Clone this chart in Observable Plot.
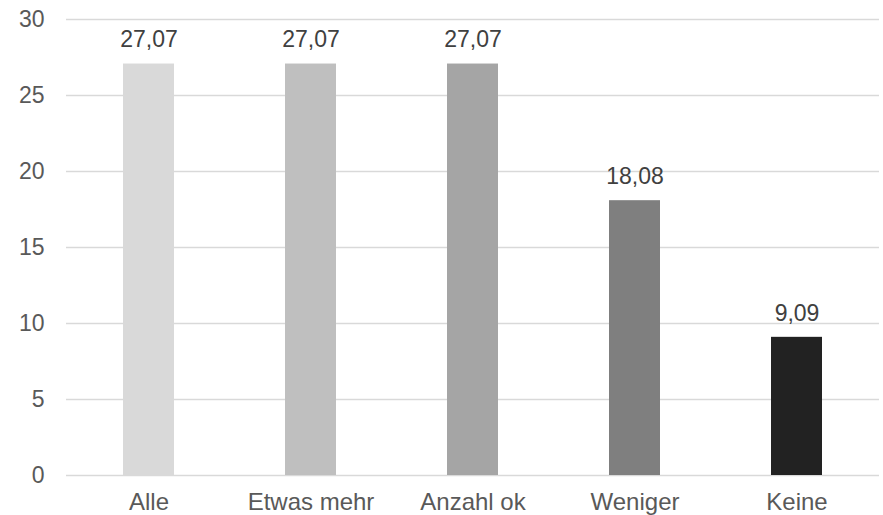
<!DOCTYPE html>
<html>
<head>
<meta charset="utf-8">
<script src="https://cdn.jsdelivr.net/npm/d3@7"></script>
<script src="https://cdn.jsdelivr.net/npm/@observablehq/plot@0.6"></script>
<style>
  html, body { margin: 0; padding: 0; background: #fff; }
</style>
</head>
<body>
<div id="chart"></div>
<script>
const categories = ["Alle", "Etwas mehr", "Anzahl ok", "Weniger", "Keine"];
const values = [27.07, 27.07, 27.07, 18.08, 9.09];
const yTicks = [0, 5, 10, 15, 20, 25, 30];
const barColors = ["#d9d9d9", "#bfbfbf", "#a5a5a5", "#7f7f7f", "#222222"];

const data = categories.map((c, i) => ({category: c, value: values[i]}));
const fmt = v => v.toFixed(2).replace(".", ",");

const chart = Plot.plot({
  width: 883,
  height: 515,
  marginLeft: 66,
  marginRight: 4,
  marginTop: 19,
  marginBottom: 40,
  style: {fontFamily: "'Liberation Sans', Arial, sans-serif", fontSize: "23px", color: "#595959", background: "#fff"},
  x: {domain: categories, paddingInner: 0.686, paddingOuter: 0.343, label: null},
  y: {domain: [0, 30], label: null},
  color: {domain: categories, range: barColors},
  marks: [
    Plot.gridY(yTicks, {stroke: "#d9d9d9", strokeOpacity: 1, strokeWidth: 1.3}),
    Plot.axisY(yTicks, {tickSize: 0, tickPadding: 22, label: null, fill: "#595959", fontSize: 23}),
    Plot.axisX({tickSize: 0, tickPadding: 17, label: null, fill: "#595959", fontSize: 24}),
    Plot.barY(data, {x: "category", y: "value", fill: "category"}),
    Plot.text(data, {x: "category", y: "value", text: d => fmt(d.value), dy: -24, fill: "#404040", fontSize: 23})
  ]
});
document.getElementById("chart").appendChild(chart);
</script>
</body>
</html>
